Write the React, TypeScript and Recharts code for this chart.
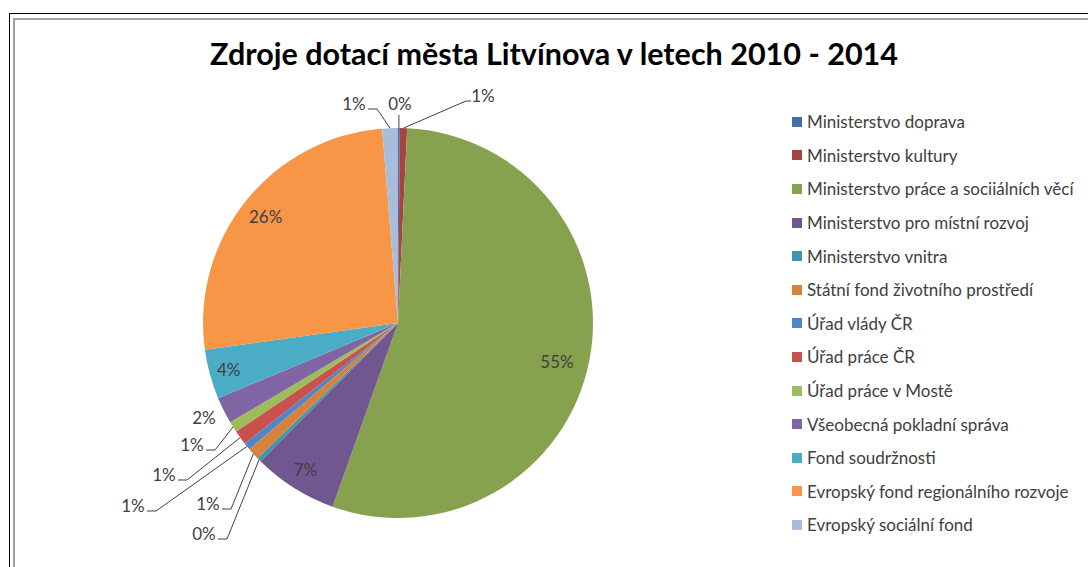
import React from "react";
import { Legend, Pie, PieChart, Cell } from "recharts";

// data (percent share of total subsidies)
const sources = [
  "Ministerstvo doprava",
  "Ministerstvo kultury",
  "Ministerstvo práce a sociiálních věcí",
  "Ministerstvo pro místní rozvoj",
  "Ministerstvo vnitra",
  "Státní fond životního prostředí",
  "Úřad vlády ČR",
  "Úřad práce ČR",
  "Úřad práce v Mostě",
  "Všeobecná pokladní správa",
  "Fond soudržnosti",
  "Evropský fond regionálního rozvoje",
  "Evropský sociální fond",
];
const shares = [0.15, 0.6, 54.7, 7.0, 0.35, 1.0, 0.6, 1.2, 0.9, 2.2, 4.1, 25.9, 1.3];
const colors = [
  "#4470A8", "#A64441", "#87A24F", "#71578F", "#3F97AE", "#D6813D",
  "#4F86C6", "#C8504D", "#9CBD59", "#8065A5", "#4BACC6", "#F79646", "#A9BCDC",
];

const chartData = sources.map((name, i) => ({ name, value: shares[i] }));

// label placement, Excel-style manual positions (offsets from pie center)
type Place =
  | { kind: "inside"; r: number }
  | { kind: "free"; dx: number; dy: number }
  | { kind: "left"; dx: number; dy: number }
  | { kind: "right"; dx: number; dy: number }
  | { kind: "down"; dx: number; dy: number };

const labelPlaces: Place[] = [
  { kind: "down", dx: 2, dy: -220 },
  { kind: "right", dx: 85, dy: -228 },
  { kind: "free", dx: 159, dy: 38 },
  { kind: "inside", r: 0.89 },
  { kind: "left", dx: -194, dy: 210 },
  { kind: "left", dx: -190, dy: 180 },
  { kind: "left", dx: -265, dy: 182 },
  { kind: "left", dx: -234, dy: 151 },
  { kind: "left", dx: -206, dy: 121 },
  { kind: "free", dx: -194, dy: 94 },
  { kind: "inside", r: 0.9 },
  { kind: "inside", r: 0.87 },
  { kind: "left", dx: -44, dy: -220 },
];

const FONT = "Lato, 'Open Sans', sans-serif";
const TEXT = "#404040";
const RAD = Math.PI / 180;

const renderLabel = (props: any) => {
  const { cx, cy, midAngle, outerRadius, percent, index } = props;
  const txt = `${Math.round(percent * 100)}%`;
  const place = labelPlaces[index];
  const px = cx + outerRadius * Math.cos(-midAngle * RAD);
  const py = cy + outerRadius * Math.sin(-midAngle * RAD);
  let tx: number, ty: number;
  let line: string | null = null;
  if (place.kind === "inside") {
    tx = cx + outerRadius * place.r * Math.cos(-midAngle * RAD);
    ty = cy + outerRadius * place.r * Math.sin(-midAngle * RAD);
  } else {
    tx = cx + place.dx;
    ty = cy + place.dy;
    if (place.kind === "left") {
      line = `${tx + 14},${ty + 6} ${tx + 23},${ty + 6} ${px},${py}`;
    } else if (place.kind === "right") {
      line = `${tx - 12},${ty + 6} ${tx - 17},${ty + 6} ${px},${py}`;
    } else if (place.kind === "down") {
      line = `${px},${ty + 12} ${px},${py}`;
    }
  }
  return (
    <g key={`lbl-${index}`}>
      {line && <polyline points={line} fill="none" stroke="#404040" strokeWidth={1} />}
      <text
        x={tx}
        y={ty}
        textAnchor="middle"
        dominantBaseline="central"
        fill={TEXT}
        fontFamily={FONT}
        fontSize={17}
      >
        {txt}
      </text>
    </g>
  );
};

// legend keeps the series order of the source arrays
const renderLegend = () => (
  <div style={{ fontFamily: FONT, fontSize: 17, color: TEXT }}>
    {sources.map((name, i) => (
      <div key={name} style={{ height: 33.6, display: "flex", alignItems: "center" }}>
        <span style={{ width: 10, height: 10, background: colors[i], marginRight: 5, flex: "none" }} />
        <span style={{ whiteSpace: "nowrap" }}>{name}</span>
      </div>
    ))}
  </div>
);

export default function App() {
  return (
    <div style={{ position: "fixed", left: 0, top: 0, width: 1088, height: 567, overflow: "hidden", background: "#fff" }}>
      <div style={{ position: "absolute", left: 9, top: 13, width: 1200, height: 700, borderLeft: "1px solid #000", borderTop: "1px solid #000" }} />
      <div style={{ position: "absolute", left: 13, top: 18, width: 1200, height: 700, borderLeft: "2px solid #a0a0a0", borderTop: "2px solid #a0a0a0" }} />
      <svg style={{ position: "absolute", left: 0, top: 0 }} width={1088} height={567}>
        <text
          x={554}
          y={53}
          textAnchor="middle"
          dominantBaseline="central"
          fontFamily={FONT}
          fontWeight="bold"
          fontSize={30}
          textLength={688}
          lengthAdjust="spacingAndGlyphs"
          fill="#000"
        >
          Zdroje dotací města Litvínova v letech 2010 - 2014
        </text>
      </svg>
      <div style={{ position: "absolute", left: 0, top: 0 }}>
        <PieChart width={1088} height={567} margin={{ top: 0, right: 0, bottom: 0, left: 0 }}>
          <Pie
            data={chartData}
            dataKey="value"
            nameKey="name"
            cx={398}
            cy={323}
            outerRadius={195}
            startAngle={90}
            endAngle={-270}
            stroke="none"
            label={renderLabel}
            labelLine={false}
            isAnimationActive={false}
          >
            {chartData.map((d, i) => (
              <Cell key={d.name} fill={colors[i]} />
            ))}
          </Pie>
          <Legend
            layout="vertical"
            align="right"
            verticalAlign="top"
            content={renderLegend}
            wrapperStyle={{ left: 792, top: 105, width: 296 }}
          />
        </PieChart>
      </div>
    </div>
  );
}
